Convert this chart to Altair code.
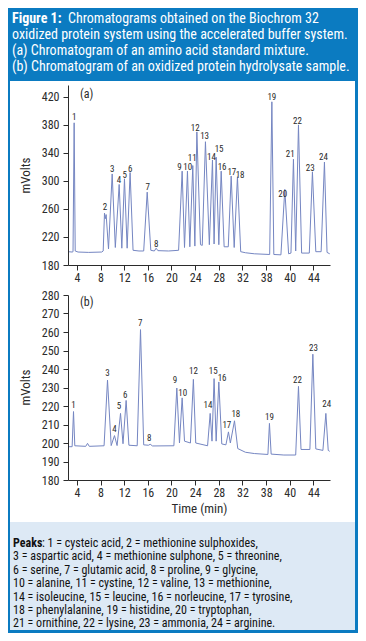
import altair as alt
import pandas as pd

BLUE = "#0b7bc1"
LIGHT = "#dde9f5"
LINE = "#7586c2"
INK = "#2b2b2b"
FONT = "Liberation Sans Narrow, Roboto Condensed, Roboto"

# ---------------- data ----------------
# (a) amino acid standard mixture
A_TIME = [2.55, 3.2, 3.35, 3.54, 3.72, 4.2, 6.0, 8.2, 8.45, 8.67, 8.8, 8.95, 9.35,
          9.97, 10.5, 11.15, 11.6, 12.05, 12.5, 13.0, 13.5, 14.5, 15.3, 15.89, 16.5,
          17.1, 17.4, 17.7, 19.5, 21.2, 21.8, 22.2, 22.7, 23.1, 23.6, 23.95, 24.29,
          24.9, 25.2, 25.74, 26.4, 26.93, 27.2, 27.55, 28.0, 28.4, 28.9, 29.6, 30.09,
          30.6, 31.15, 31.7, 32.5, 34.0, 36.6, 36.97, 37.3, 38.5, 39.16, 39.8, 40.2,
          40.62, 41.0, 41.47, 42.0, 43.3, 43.83, 44.4, 45.3, 45.86, 46.3, 46.75]
A_MV = [199, 198.5, 199, 383, 200, 198.5, 198, 198.5, 200, 254, 246, 252, 203,
        310, 205, 295, 204, 303, 204, 312, 201, 200, 200, 284, 201,
        200, 204, 200.5, 200, 201, 314, 205, 314, 206, 322, 207, 370,
        209, 208, 356, 209, 330, 210, 334, 209, 314, 206, 206, 307,
        205, 306, 199, 197.5, 196, 195, 413, 195, 194.5, 288, 196, 197,
        331, 200, 380, 197, 197, 313, 199, 199, 327, 198, 196]
A_LABEL = [str(i) for i in range(1, 25)]
A_LABEL_T = [3.54, 8.73, 9.97, 11.1, 12.1, 13.0, 16.0, 17.4, 21.35, 22.75, 23.5, 24.0,
             25.6, 26.75, 28.05, 28.55, 30.2, 31.6, 36.97, 38.8, 40.06, 41.3, 43.45, 45.7]
A_LABEL_MV = [391, 263, 317, 301, 309, 317, 291, 210, 320, 320, 333, 376,
              364, 334, 346, 320, 313, 309, 420, 281, 338, 385, 318, 334]

# (b) oxidized protein hydrolysate sample
B_TIME = [2.55, 3.2, 3.43, 3.65, 5.5, 5.8, 6.1, 8.6, 9.18, 9.8, 10.36, 10.8, 11.38,
          11.8, 12.33, 12.8, 14.2, 14.76, 15.3, 16.1, 16.4, 16.8, 20.4, 20.9, 21.35,
          21.8, 22.2, 23.2, 23.7, 24.1, 26.1, 26.54, 26.85, 27.2, 27.55, 28.0, 28.5,
          29.2, 29.63, 29.95, 30.65, 31.2, 32.5, 34.0, 36.3, 36.56, 36.85, 39.0, 41.0,
          41.47, 41.9, 43.4, 43.9, 44.4, 45.6, 46.1, 46.5, 46.75]
B_MV = [198, 198, 217, 198.5, 198.2, 199.8, 198.2, 198.5, 234, 198.6, 204, 198.6, 216,
        199.6, 223, 198.8, 198.5, 261.3, 199, 198.8, 199.3, 198.4, 198.5, 229.7, 200,
        224.4, 201, 200, 234.4, 200, 198.5, 216, 201, 234.8, 201, 233, 199.5,
        199, 206, 200, 212, 197, 195, 194.3, 193.8, 210.6, 194, 193.5, 193.5,
        230.6, 196.5, 196.5, 248, 196.8, 196, 216, 196, 195.5]
B_LABEL = ["1", "3", "4", "5", "6", "7", "8", "9", "10", "12", "14", "15", "16",
           "17", "18", "19", "22", "23", "24"]
B_LABEL_T = [3.43, 9.18, 10.36, 11.1, 12.17, 14.7, 16.22, 20.6, 21.9, 23.7, 26.15,
             27.05, 28.55, 29.36, 30.88, 36.56, 41.3, 44.0, 46.26]
B_LABEL_MV = [220.7, 238, 207.7, 220.2, 225.7, 265, 202.8, 233.9, 227.1, 238.8, 220.5,
              238.8, 235.2, 209.7, 215.6, 213.8, 234.2, 251.2, 221]

X_TICKS = [4, 8, 12, 16, 20, 24, 28, 32, 36, 40, 44]
A_Y_TICKS = [180, 220, 260, 300, 340, 380, 420]
B_Y_TICKS = [180, 190, 200, 210, 220, 230, 240, 250, 260, 270, 280]

TITLE_BOLD = "Figure 1:"
TITLE_LINES = [
    "Chromatograms obtained on the Biochrom 32",
    "oxidized protein system using the accelerated buffer system.",
    "(a) Chromatogram of an amino acid standard mixture.",
    "(b) Chromatogram of an oxidized protein hydrolysate sample.",
]
LEGEND_BOLD = "Peaks"
LEGEND_LINES = [
    ": 1 = cysteic acid, 2 = methionine sulphoxides,",
    "3 = aspartic acid, 4 = methionine sulphone, 5 = threonine,",
    "6 = serine, 7 = glutamic acid, 8 = proline, 9 = glycine,",
    "10 = alanine, 11 = cystine, 12 = valine, 13 = methionine,",
    "14 = isoleucine, 15 = leucine, 16 = norleucine, 17 = tyrosine,",
    "18 = phenylalanine, 19 = histidine, 20 = tryptophan,",
    "21 = ornithine, 22 = lysine, 23 = ammonia, 24 = arginine.",
]

# ---------------- chart ----------------
W = 262
HA, HB = 180, 185

a_trace = pd.DataFrame({"t": A_TIME, "mv": A_MV})
a_lab = pd.DataFrame({"t": A_LABEL_T, "mv": A_LABEL_MV, "lab": A_LABEL})
b_trace = pd.DataFrame({"t": B_TIME, "mv": B_MV})
b_lab = pd.DataFrame({"t": B_LABEL_T, "mv": B_LABEL_MV, "lab": B_LABEL})
one = pd.DataFrame({"k": [0]})

axis_common = dict(domainColor=INK, tickColor=INK, labelColor=INK, grid=False,
                   tickSize=5, labelFont=FONT, labelFontSize=12, titleFont=FONT,
                   titleColor=INK, titleFontWeight="normal", titleFontSize=13,
                   zindex=2)


def xenc(title, show_title):
    ax = dict(axis_common)
    ax.update(values=X_TICKS, labelPadding=2,
              labelExpr="datum.value == 36 ? '38' : datum.label")
    if show_title:
        ax.update(title=title, titlePadding=4)
    else:
        ax.update(title=None)
    return alt.X("t:Q", scale=alt.Scale(domain=[2.5, 46.8], nice=False, zero=False),
                 axis=alt.Axis(**ax))


def yenc(domain, ticks, ty):
    ax = dict(axis_common)
    ax.update(values=ticks, title="mVolts", labelPadding=4, titleX=-43, titleY=ty,
              titleBaseline="middle", titleAlign="center")
    return alt.Y("mv:Q", scale=alt.Scale(domain=domain, nice=False, zero=False),
                 axis=alt.Axis(**ax))


def rect(x1, x2, y1, y2, color):
    return alt.Chart(one).mark_rect(color=color).encode(
        x=alt.value(x1), x2=alt.value(x2), y=alt.value(y1), y2=alt.value(y2))


def txt(s, x, y, size, color=INK, weight="normal", align="left"):
    return alt.Chart(one).mark_text(
        text=s, align=align, baseline="middle", font=FONT, fontSize=size,
        color=color, fontWeight=weight).encode(x=alt.value(x), y=alt.value(y))


xa = xenc(None, False)
ya = yenc([180, 437], A_Y_TICKS, 90)
layers_a = [
    rect(-60, 290, -77, 548, BLUE),
    rect(-58, 287, -4, 437, "white"),
    rect(-58, 287, 437, 545, LIGHT),
    alt.Chart(a_trace).mark_line(color=LINE, strokeWidth=1).encode(x=xa, y=ya),
    alt.Chart(a_lab).mark_text(font=FONT, fontSize=9, color=INK, baseline="middle")
    .encode(x=xa, y=ya, text="lab:N"),
    txt("(a)", 12, 9, 12),
    txt(TITLE_BOLD, -56, -66, 14, "white", "bold"),
]
for i, line in enumerate(TITLE_LINES):
    xs = 0 if i == 0 else -56
    layers_a.append(txt(line, xs, [-66, -50, -34.5, -18.5][i], 14, "white"))
panel_a = alt.layer(*layers_a).properties(width=W, height=HA)

xb = xenc("Time (min)", True)
yb = yenc([180, 280], B_Y_TICKS, 92)
layers_b = [
    alt.Chart(b_trace).mark_line(color=LINE, strokeWidth=1).encode(x=xb, y=yb),
    alt.Chart(b_lab).mark_text(font=FONT, fontSize=9, color=INK, baseline="middle")
    .encode(x=xb, y=yb, text="lab:N"),
    txt("(b)", 12, 7, 12),
    txt(LEGEND_BOLD, -55, 248, 12, "#111", "bold"),
]
for i, line in enumerate(LEGEND_LINES):
    xs = -55 + 29 if i == 0 else -55
    layers_b.append(txt(line, xs, 248 + 13.4 * i, 12, "#111"))
panel_b = alt.layer(*layers_b).properties(width=W, height=HB)

chart = alt.vconcat(panel_a, panel_b, spacing=30, bounds="flush").properties(
    padding=0
).configure(background=BLUE).configure_view(stroke=None)

chart.save("out.html", embed_options={"renderer": "svg", "actions": False})
